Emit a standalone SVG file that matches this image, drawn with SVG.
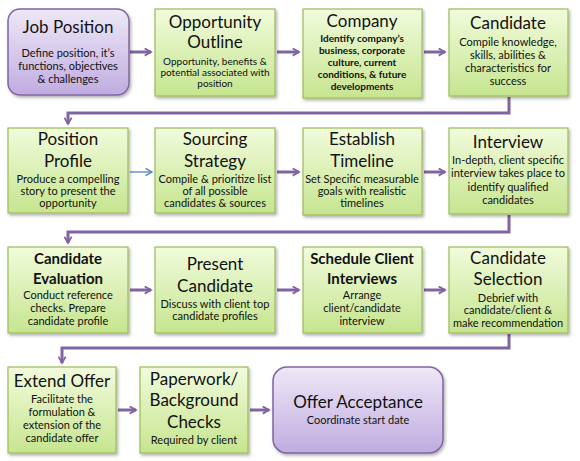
<svg xmlns="http://www.w3.org/2000/svg" width="580" height="461" viewBox="0 0 580 461">
<defs>
<linearGradient id="gGreen" x1="0" y1="0" x2="0" y2="1">
<stop offset="0" stop-color="#f1fbdc"/>
<stop offset="1" stop-color="#c6e58f"/>
</linearGradient>
<linearGradient id="gPurple" x1="0" y1="0" x2="0" y2="1">
<stop offset="0" stop-color="#eee8f6"/>
<stop offset="1" stop-color="#c0ace0"/>
</linearGradient>
<filter id="sh" x="-10%" y="-10%" width="125%" height="130%">
<feDropShadow dx="1.5" dy="2" stdDeviation="1.5" flood-color="#000" flood-opacity="0.3"/>
</filter>
<marker id="ah" viewBox="0 0 10 10" refX="8" refY="5" markerWidth="3" markerHeight="3" orient="auto" markerUnits="strokeWidth">
<polyline points="1,1 8,5 1,9" fill="none" stroke="#8064a2" stroke-width="2"/>
</marker>
<marker id="ahb" viewBox="0 0 10 10" refX="8" refY="5" markerWidth="7" markerHeight="7" orient="auto" markerUnits="strokeWidth">
<polyline points="1,1 8,5 1,9" fill="none" stroke="#4f81bd" stroke-width="1.4"/>
</marker>
</defs>
<style>
.g{fill:url(#gGreen);stroke:#9bbb59;stroke-width:1.2;filter:url(#sh)}
.p{fill:url(#gPurple);stroke:#8064a2;stroke-width:1.5;filter:url(#sh)}
text{font-family:Lato,"Open Sans","Liberation Sans",sans-serif;fill:#111;text-anchor:middle}
.t{font-size:17px}
.tb{font-size:15px;font-weight:bold}
.b{font-size:11px}
.s{font-size:10px}
.sb{font-size:10px;font-weight:bold}
.c{fill:none;stroke:#8064a2;stroke-width:3}
</style>
<g id="connectors">
<line class="c" x1="130" y1="52" x2="151" y2="52" marker-end="url(#ah)"/>
<line class="c" x1="277" y1="52" x2="299" y2="52" marker-end="url(#ah)"/>
<line class="c" x1="424" y1="52" x2="445" y2="52" marker-end="url(#ah)"/>
<polyline class="c" points="509,97 509,113 68,113 68,124" marker-end="url(#ah)"/>
<line x1="130" y1="172" x2="152" y2="172" fill="none" stroke="#4f81bd" stroke-width="1.3" marker-end="url(#ahb)"/>
<line class="c" x1="277" y1="172" x2="299" y2="172" marker-end="url(#ah)"/>
<line class="c" x1="424" y1="172" x2="445" y2="172" marker-end="url(#ah)"/>
<polyline class="c" points="509,215 509,232 68,232 68,243" marker-end="url(#ah)"/>
<line class="c" x1="130" y1="290" x2="151" y2="290" marker-end="url(#ah)"/>
<line class="c" x1="277" y1="290" x2="299" y2="290" marker-end="url(#ah)"/>
<line class="c" x1="424" y1="290" x2="445" y2="290" marker-end="url(#ah)"/>
<polyline class="c" points="509,334 509,348 62,348 62,363" marker-end="url(#ah)"/>
<line class="c" x1="118" y1="410" x2="136" y2="410" marker-end="url(#ah)"/>
<line class="c" x1="250" y1="410" x2="269" y2="410" marker-end="url(#ah)"/>
</g>
<g id="job-position">
<rect class="p" x="8" y="9" width="121" height="86" rx="12"/>
<text class="t" x="68" y="33">Job Position</text>
<text class="b" x="68" y="57">Define position, it’s</text>
<text class="b" x="68" y="70">functions, objectives</text>
<text class="b" x="68" y="83">&amp; challenges</text>
</g>
<g id="opportunity-outline">
<rect class="g" x="155" y="9" width="120" height="87"/>
<text class="t" x="215" y="28">Opportunity</text>
<text class="t" x="215" y="48">Outline</text>
<text class="s" x="215" y="65">Opportunity, benefits &amp;</text>
<text class="s" x="215" y="76">potential associated with</text>
<text class="s" x="215" y="87">position</text>
</g>
<g id="company">
<rect class="g" x="303" y="9" width="119" height="89"/>
<text class="t" x="362" y="27">Company</text>
<text class="sb" x="362" y="42">Identify company’s</text>
<text class="sb" x="362" y="54">business, corporate</text>
<text class="sb" x="362" y="66">culture, current</text>
<text class="sb" x="362" y="78">conditions, &amp; future</text>
<text class="sb" x="362" y="90">developments</text>
</g>
<g id="candidate">
<rect class="g" x="449" y="9" width="119" height="87"/>
<text class="t" x="508" y="29">Candidate</text>
<text class="b" x="508" y="46">Compile knowledge,</text>
<text class="b" x="508" y="59">skills, abilities &amp;</text>
<text class="b" x="508" y="72">characteristics for</text>
<text class="b" x="508" y="85">success</text>
</g>
<g id="position-profile">
<rect class="g" x="8" y="128" width="120" height="85"/>
<text class="t" x="68" y="145">Position</text>
<text class="t" x="68" y="167">Profile</text>
<text class="b" x="68" y="183">Produce a compelling</text>
<text class="b" x="68" y="195">story to present the</text>
<text class="b" x="68" y="207">opportunity</text>
</g>
<g id="sourcing-strategy">
<rect class="g" x="155" y="128" width="120" height="85"/>
<text class="t" x="215" y="145">Sourcing</text>
<text class="t" x="215" y="167">Strategy</text>
<text class="b" x="215" y="183">Compile &amp; prioritize list</text>
<text class="b" x="215" y="195">of all possible</text>
<text class="b" x="215" y="207">candidates &amp; sources</text>
</g>
<g id="establish-timeline">
<rect class="g" x="303" y="128" width="119" height="87"/>
<text class="t" x="362" y="145">Establish</text>
<text class="t" x="362" y="167">Timeline</text>
<text class="b" x="362" y="183">Set Specific measurable</text>
<text class="b" x="362" y="195">goals with realistic</text>
<text class="b" x="362" y="207">timelines</text>
</g>
<g id="interview">
<rect class="g" x="449" y="128" width="119" height="86"/>
<text class="t" x="508" y="148">Interview</text>
<text class="b" x="508" y="164">In-depth, client specific</text>
<text class="b" x="508" y="177">interview takes place to</text>
<text class="b" x="508" y="191">identify qualified</text>
<text class="b" x="508" y="204">candidates</text>
</g>
<g id="candidate-evaluation">
<rect class="g" x="8" y="247" width="120" height="86"/>
<text class="tb" x="68" y="264">Candidate</text>
<text class="tb" x="68" y="284">Evaluation</text>
<text class="b" x="68" y="299">Conduct reference</text>
<text class="b" x="68" y="312">checks. Prepare</text>
<text class="b" x="68" y="325">candidate profile</text>
</g>
<g id="present-candidate">
<rect class="g" x="155" y="247" width="120" height="86"/>
<text class="t" x="215" y="270">Present</text>
<text class="t" x="215" y="292">Candidate</text>
<text class="b" x="215" y="308">Discuss with client top</text>
<text class="b" x="215" y="320">candidate profiles</text>
</g>
<g id="schedule-client-interviews">
<rect class="g" x="303" y="247" width="119" height="86"/>
<text class="tb" x="362" y="264">Schedule Client</text>
<text class="tb" x="362" y="284">Interviews</text>
<text class="b" x="362" y="299">Arrange</text>
<text class="b" x="362" y="312">client/candidate</text>
<text class="b" x="362" y="325">interview</text>
</g>
<g id="candidate-selection">
<rect class="g" x="449" y="247" width="119" height="86"/>
<text class="t" x="508" y="264">Candidate</text>
<text class="t" x="508" y="285">Selection</text>
<text class="b" x="508" y="302">Debrief with</text>
<text class="b" x="508" y="314">candidate/client &amp;</text>
<text class="b" x="508" y="327">make recommendation</text>
</g>
<g id="extend-offer">
<rect class="g" x="8" y="367" width="108" height="86"/>
<text class="t" x="62" y="387">Extend Offer</text>
<text class="b" x="62" y="403">Facilitate the</text>
<text class="b" x="62" y="416">formulation &amp;</text>
<text class="b" x="62" y="429">extension of the</text>
<text class="b" x="62" y="442">candidate offer</text>
</g>
<g id="paperwork">
<rect class="g" x="140" y="367" width="108" height="86"/>
<text class="t" x="194" y="385">Paperwork/</text>
<text class="t" x="194" y="406">Background</text>
<text class="t" x="194" y="428">Checks</text>
<text class="b" x="194" y="444">Required by client</text>
</g>
<g id="offer-acceptance">
<rect class="p" x="273" y="367" width="170" height="86" rx="14"/>
<text class="t" x="358" y="408">Offer Acceptance</text>
<text class="b" x="358" y="424">Coordinate start date</text>
</g>
</svg>
